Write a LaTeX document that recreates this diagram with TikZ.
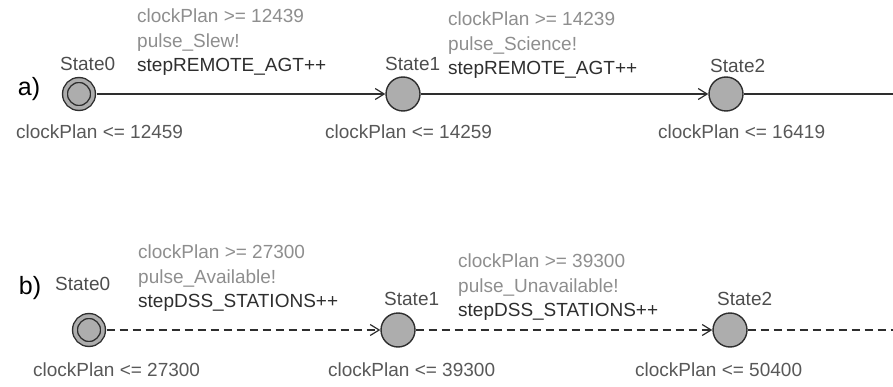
\documentclass[tikz,border=0pt]{standalone}
\usepackage{fontspec}
\setmainfont{Liberation Sans}
\usetikzlibrary{arrows.meta, positioning}

\definecolor{ink}{HTML}{2E2E2E}
\definecolor{guard}{HTML}{8E8E8E}
\definecolor{statefill}{HTML}{ADADAD}

\begin{document}
\begin{tikzpicture}[
        x=1pt, y=-1pt,
        state/.style={circle, draw=ink, fill=statefill, line width=1.4pt, minimum size=34pt, inner sep=0pt},
        init/.style={state, minimum size=28pt, double=statefill, double distance=3.5pt, outer sep=3.5pt},
        arrow/.style={-{Straight Barb[length=9pt, width=11pt]}, line width=1.2pt, draw=ink}
    ]

    \tikzset{
    dasharrow/.style={arrow, dash pattern=on 8pt off 5pt},
    wire/.style={line width=1.2pt, draw=ink},
    dashwire/.style={wire, dash pattern=on 8pt off 5pt},
    txt/.style={inner sep=0pt, font=\fontsize{19}{24.5}\selectfont},
    sname/.style={txt, text=ink!85, anchor=west},
    inv/.style={txt, text=ink!80, anchor=west},
    trans/.style={txt, align=left, anchor=north west, text=ink},
    part/.style={inner sep=0pt, font=\fontsize{25}{25}\selectfont}
}

    \useasboundingbox (0,0) rectangle (893,387);

    \node[init] (A0) at (79,94) {};
    \node[state] (A1) at (403,94) {};
    \node[state] (A2) at (726,94) {};
    \coordinate (A3) at (893,94);

    \node[init] (B0) at (89,330) {};
    \node[state] (B1) at (398,330) {};
    \node[state] (B2) at (730,330) {};
    \coordinate (B3) at (893,330);

    \draw[arrow] (A0) -- (A1);
    \draw[arrow] (A1) -- (A2);
    \draw[wire] (A2) -- (A3);

    \draw[dasharrow] (B0) -- (B1);
    \draw[dasharrow] (B1) -- (B2);
    \draw[dashwire] (B2) -- (B3);

    \node[part] (pa) at (29,89) {a)};
    \node[sname] (nA0) at (60,64) {State0};
    \node[sname] (nA1) at (385,64) {State1};
    \node[sname] (nA2) at (710,66) {State2};
    \node[trans] (tA1) at (137,9) {\textcolor{guard}{clockPlan >= 12439}\\\textcolor{guard}{pulse\_Slew!}\\stepREMOTE\_AGT++};
    \node[trans] (tA2) at (448,12) {\textcolor{guard}{clockPlan >= 14239}\\\textcolor{guard}{pulse\_Science!}\\stepREMOTE\_AGT++};
    \node[inv] (iA0) at (16,132) {clockPlan <= 12459};
    \node[inv] (iA1) at (325,132) {clockPlan <= 14259};
    \node[inv] (iA2) at (658,132) {clockPlan <= 16419};

    \node[part] (pb) at (30,288) {b)};
    \node[sname] (nB0) at (55,284) {State0};
    \node[sname] (nB1) at (384,299) {State1};
    \node[sname] (nB2) at (717,299) {State2};
    \node[trans] (tB1) at (138,245) {\textcolor{guard}{clockPlan >= 27300}\\\textcolor{guard}{pulse\_Available!}\\stepDSS\_STATIONS++};
    \node[trans] (tB2) at (458,254) {\textcolor{guard}{clockPlan >= 39300}\\\textcolor{guard}{pulse\_Unavailable!}\\stepDSS\_STATIONS++};
    \node[inv] (iB0) at (33,370) {clockPlan <= 27300};
    \node[inv] (iB1) at (328,370) {clockPlan <= 39300};
    \node[inv] (iB2) at (635,370) {clockPlan <= 50400};
    \end{tikzpicture}
\end{document}
